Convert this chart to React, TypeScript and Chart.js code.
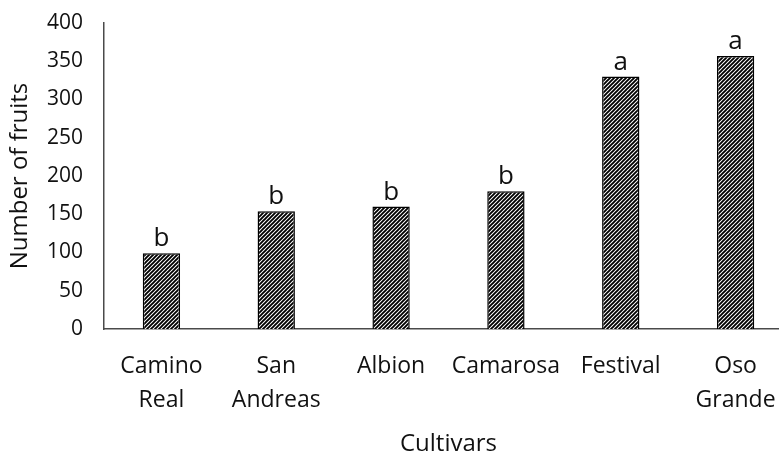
import React, { useEffect, useRef } from "react";
import { Chart, registerables } from "chart.js";

Chart.register(...registerables);

const categories: (string | string[])[] = [
  ["Camino", "Real"],
  ["San", "Andreas"],
  "Albion",
  "Camarosa",
  "Festival",
  ["Oso", "Grande"],
];
const fruitCounts = [99, 154, 160, 180, 330, 357];
const groupLetters = ["b", "b", "b", "b", "a", "a"];
const yTicks = [0, 50, 100, 150, 200, 250, 300, 350, 400];

const FONT = "'Open Sans', 'DejaVu Sans', sans-serif";
const TEXT = "#111111";
const AXIS = "#4a4a4a";

function makeHatch(): CanvasPattern | string {
  const c = document.createElement("canvas");
  c.width = 4;
  c.height = 4;
  const g = c.getContext("2d");
  if (!g) return "#555";
  g.fillStyle = "#ffffff";
  g.fillRect(0, 0, 4, 4);
  g.strokeStyle = "#000000";
  g.lineWidth = 1.9;
  g.beginPath();
  g.moveTo(-1, 5);
  g.lineTo(5, -1);
  g.moveTo(-1, 1);
  g.lineTo(1, -1);
  g.moveTo(3, 5);
  g.lineTo(5, 3);
  g.stroke();
  const p = g.createPattern(c, "repeat");
  return p || "#555";
}

const letterPlugin = {
  id: "letters",
  afterDatasetsDraw(chart: any) {
    const meta = chart.getDatasetMeta(0);
    const ctx = chart.ctx;
    ctx.save();
    ctx.font = `26px ${FONT}`;
    ctx.fillStyle = TEXT;
    ctx.textAlign = "center";
    ctx.textBaseline = "alphabetic";
    meta.data.forEach((bar: any, i: number) => {
      ctx.fillText(groupLetters[i], bar.x, bar.y - 7);
    });
    ctx.restore();
  },
};

export default function App() {
  const ref = useRef<HTMLCanvasElement | null>(null);
  useEffect(() => {
    if (!ref.current) return;
    const hatch = makeHatch();
    const chart = new Chart(ref.current, {
      type: "bar",
      data: {
        labels: categories,
        datasets: [
          {
            data: fruitCounts,
            backgroundColor: hatch as any,
            borderColor: "#000000",
            borderWidth: 1.5,
            barPercentage: 0.325,
            categoryPercentage: 1,
          },
        ],
      },
      options: {
        animation: false,
        responsive: false,
        devicePixelRatio: 1,
        layout: { padding: { top: 23, left: 0, right: 0, bottom: 0 } },
        plugins: {
          legend: { display: false },
          tooltip: { enabled: false },
        },
        scales: {
          x: {
            grid: { display: false, drawTicks: false },
            border: { display: true, color: AXIS, width: 1.5 },
            ticks: {
              color: TEXT,
              font: { family: FONT, size: 23, lineHeight: 1.45 },
              padding: 21,
              maxRotation: 0,
              autoSkip: false,
            },
            title: {
              display: true,
              text: "Cultivars",
              color: TEXT,
              font: { family: FONT, size: 24, lineHeight: 1.2 },
              padding: { top: 0, bottom: -4 },
            },
            afterFit(scale: any) {
              scale.height = 126;
              scale.paddingLeft = 0;
              scale.paddingRight = 0;
            },
          },
          y: {
            min: 0,
            max: 400,
            afterBuildTicks(scale: any) {
              scale.ticks = yTicks.map((v) => ({ value: v }));
            },
            grid: { display: false, drawTicks: false },
            border: { display: true, color: AXIS, width: 1.5 },
            ticks: {
              color: TEXT,
              font: { family: FONT, size: 21 },
              padding: 21,
            },
            title: {
              display: true,
              text: "Number of fruits",
              color: TEXT,
              font: { family: FONT, size: 24, lineHeight: 1.2 },
              padding: { top: 6, bottom: 0 },
            },
            afterFit(scale: any) {
              scale.width = 104;
              scale.paddingTop = 0;
              scale.paddingBottom = 0;
            },
          },
        },
      },
      plugins: [letterPlugin],
    });
    return () => chart.destroy();
  }, []);
  return (
    <div
      style={{
        position: "fixed",
        left: 0,
        top: 0,
        width: 779,
        height: 455,
        overflow: "hidden",
        background: "#ffffff",
      }}
    >
      <canvas ref={ref} width={793} height={455} style={{ display: "block" }} />
    </div>
  );
}
